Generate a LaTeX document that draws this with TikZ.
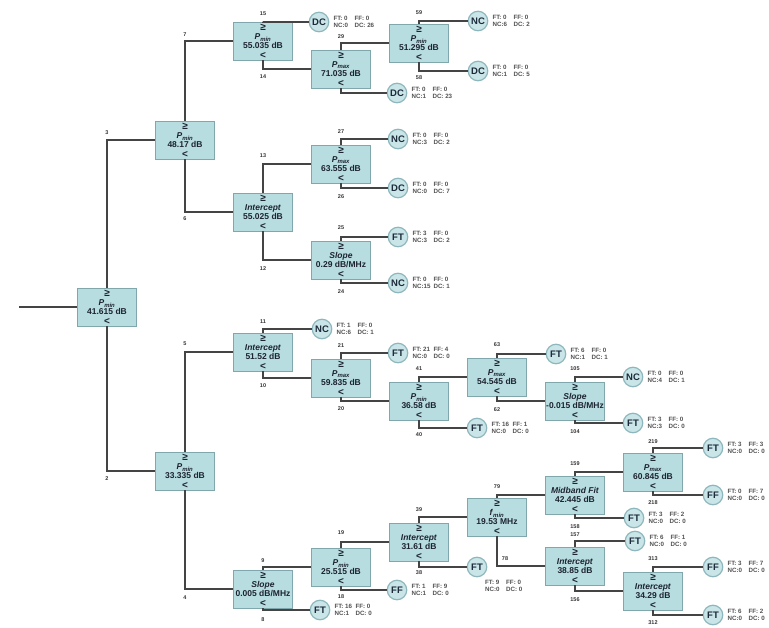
\documentclass[tikz,border=0pt]{standalone}
\usepackage{fontspec}
\setmainfont{Liberation Sans}
\definecolor{boxfill}{HTML}{B8DDE1}
\definecolor{boxline}{HTML}{7FA7AC}
\definecolor{leaffill}{HTML}{C9E5E8}
\definecolor{leafline}{HTML}{8DB7BD}
\definecolor{edgecol}{HTML}{444444}
\definecolor{boxtext}{HTML}{1C2430}
\definecolor{leaftext}{HTML}{1C2A3A}
\definecolor{stattext}{HTML}{505050}
\definecolor{numtext}{HTML}{333333}
\newcommand{\Pmin}{\textit{P}\textsubscript{\itshape min}}
\newcommand{\Pmax}{\textit{P}\textsubscript{\itshape max}}
\newcommand{\Fmin}{\textit{f}\textsubscript{\itshape min}}
\newcommand{\bt}[2]{{\fontsize{10}{9.3}\selectfont ≥}\\#1\\#2\\{\fontsize{10}{9.3}\selectfont <}}
\newcommand{\sttext}[4]{\makebox[21pt][l]{FT: #1}FF: #2\\\makebox[21pt][l]{NC:#3}DC: #4}
\begin{document}
\begin{tikzpicture}[x=1pt,y=-1pt,
 box/.style={draw=boxline, fill=boxfill, line width=0.6pt, minimum width=59pt, minimum height=38pt, inner sep=0.5pt, align=center, text=boxtext, font=\bfseries\fontsize{8.5}{9.3}\selectfont},
 leaf/.style={circle, draw=leafline, fill=leaffill, line width=1.2pt, minimum size=19.5pt, inner sep=0pt, text=leaftext, font=\bfseries\fontsize{9.5}{10}\selectfont},
 stat/.style={anchor=west, align=left, inner sep=0pt, text=stattext, font=\bfseries\fontsize{6.2}{7.6}\selectfont},
 num/.style={inner sep=0pt, text=numtext, font=\bfseries\fontsize{5.5}{6}\selectfont},
 edge/.style={draw=edgecol, line width=1.6pt}]
\useasboundingbox (0,0) rectangle (769,628);
\clip (0,0) rectangle (769,628);

% ---------- decision boxes ----------
\node[box] (R) at (107,307) {\bt{\Pmin}{41.615 dB}};
\node[box] (A) at (185,140) {\bt{\Pmin}{48.17 dB}};
\node[box] (B) at (185,471) {\bt{\Pmin}{33.335 dB}};
\node[box] (A1) at (263,41) {\bt{\Pmin}{55.035 dB}};
\node[box] (A2) at (263,212) {\bt{\textit{Intercept}}{55.025 dB}};
\node[box] (A11) at (341,69) {\bt{\Pmax}{71.035 dB}};
\node[box] (A111) at (419,43) {\bt{\Pmin}{51.295 dB}};
\node[box] (A21) at (341,164) {\bt{\Pmax}{63.555 dB}};
\node[box] (A22) at (341,260) {\bt{\textit{Slope}}{0.29 dB/MHz}};
\node[box] (B1) at (263,352) {\bt{\textit{Intercept}}{51.52 dB}};
\node[box] (B2) at (263,589) {\bt{\textit{Slope}}{0.005 dB/MHz}};
\node[box] (B12) at (341,378) {\bt{\Pmax}{59.835 dB}};
\node[box] (B122) at (419,401) {\bt{\Pmin}{36.58 dB}};
\node[box] (B1221) at (497,377) {\bt{\Pmax}{54.545 dB}};
\node[box] (B12212) at (575,401) {\bt{\textit{Slope}}{-0.015 dB/MHz}};
\node[box] (B21) at (341,567) {\bt{\Pmin}{25.515 dB}};
\node[box] (B211) at (419,542) {\bt{\textit{Intercept}}{31.61 dB}};
\node[box] (B2111) at (497,517) {\bt{\Fmin}{19.53 MHz}};
\node[box] (B21111) at (575,495) {\bt{\textit{Midband Fit}}{42.445 dB}};
\node[box] (B211111) at (653,472) {\bt{\Pmax}{60.845 dB}};
\node[box] (B21112) at (575,566) {\bt{\textit{Intercept}}{38.85 dB}};
\node[box] (B211122) at (653,591) {\bt{\textit{Intercept}}{34.29 dB}};

% ---------- leaves ----------
\node[leaf] (L1) at (319,22) {DC};
\node[leaf] (L2) at (397,93) {DC};
\node[leaf] (L3) at (478,21) {NC};
\node[leaf] (L4) at (478,71) {DC};
\node[leaf] (L5) at (398,139) {NC};
\node[leaf] (L6) at (398,188) {DC};
\node[leaf] (L7) at (398,237) {FT};
\node[leaf] (L8) at (398,283) {NC};
\node[leaf] (L9) at (322,329) {NC};
\node[leaf] (L10) at (398,353) {FT};
\node[leaf] (L11) at (477,428) {FT};
\node[leaf] (L12) at (556,354) {FT};
\node[leaf] (L13) at (633,377) {NC};
\node[leaf] (L14) at (633,423) {FT};
\node[leaf] (L15) at (713,448) {FT};
\node[leaf] (L16) at (713,495) {FF};
\node[leaf] (L17) at (634,518) {FT};
\node[leaf] (L18) at (635,541) {FT};
\node[leaf] (L19) at (713,567) {FF};
\node[leaf] (L20) at (713,615) {FT};
\node[leaf] (L21) at (477,567) {FT};
\node[leaf] (L22) at (397,590) {FF};
\node[leaf] (L23) at (320,610) {FT};

% ---------- leaf statistics ----------
\node[stat] (S1) at ([xshift=4pt]L1.east) {\sttext{0}{0}{0}{26}};
\node[stat] (S2) at ([xshift=4pt]L2.east) {\sttext{0}{0}{1}{23}};
\node[stat] (S3) at ([xshift=4pt]L3.east) {\sttext{0}{0}{6}{2}};
\node[stat] (S4) at ([xshift=4pt]L4.east) {\sttext{0}{0}{1}{5}};
\node[stat] (S5) at ([xshift=4pt]L5.east) {\sttext{0}{0}{3}{2}};
\node[stat] (S6) at ([xshift=4pt]L6.east) {\sttext{0}{0}{0}{7}};
\node[stat] (S7) at ([xshift=4pt]L7.east) {\sttext{3}{0}{3}{2}};
\node[stat] (S8) at ([xshift=4pt]L8.east) {\sttext{0}{0}{15}{1}};
\node[stat] (S9) at ([xshift=4pt]L9.east) {\sttext{1}{0}{6}{1}};
\node[stat] (S10) at ([xshift=4pt]L10.east) {\sttext{21}{4}{0}{0}};
\node[stat] (S11) at ([xshift=4pt]L11.east) {\sttext{16}{1}{0}{0}};
\node[stat] (S12) at ([xshift=4pt]L12.east) {\sttext{6}{0}{1}{1}};
\node[stat] (S13) at ([xshift=4pt]L13.east) {\sttext{0}{0}{4}{1}};
\node[stat] (S14) at ([xshift=4pt]L14.east) {\sttext{3}{0}{3}{0}};
\node[stat] (S15) at ([xshift=4pt]L15.east) {\sttext{3}{3}{0}{0}};
\node[stat] (S16) at ([xshift=4pt]L16.east) {\sttext{0}{7}{0}{0}};
\node[stat] (S17) at ([xshift=4pt]L17.east) {\sttext{3}{2}{0}{0}};
\node[stat] (S18) at ([xshift=4pt]L18.east) {\sttext{6}{1}{0}{0}};
\node[stat] (S19) at ([xshift=4pt]L19.east) {\sttext{3}{7}{0}{0}};
\node[stat] (S20) at ([xshift=4pt]L20.east) {\sttext{6}{2}{0}{0}};
\node[stat] (S21) at (485,586) {\sttext{9}{0}{0}{0}};
\node[stat] (S22) at ([xshift=4pt]L22.east) {\sttext{1}{9}{1}{0}};
\node[stat] (S23) at ([xshift=4pt]L23.east) {\sttext{16}{0}{1}{0}};

% ---------- connectors ----------
\coordinate (in) at (19,307);
\draw[edge] (in) -- (R.west);
\draw[edge] (R.north) |- (A.west);
\draw[edge] (R.south) |- (B.west);
\draw[edge] (A.north) |- (A1.west);
\draw[edge] (A.south) |- (A2.west);
\draw[edge] (A1.north) |- (L1.west);
\draw[edge] (A1.south) |- (A11.west);
\draw[edge] (A11.north) |- (A111.west);
\draw[edge] (A11.south) |- (L2.west);
\draw[edge] (A111.north) |- (L3.west);
\draw[edge] (A111.south) |- (L4.west);
\draw[edge] (A2.north) |- (A21.west);
\draw[edge] (A2.south) |- (A22.west);
\draw[edge] (A21.north) |- (L5.west);
\draw[edge] (A21.south) |- (L6.west);
\draw[edge] (A22.north) |- (L7.west);
\draw[edge] (A22.south) |- (L8.west);
\draw[edge] (B.north) |- (B1.west);
\draw[edge] (B.south) |- (B2.west);
\draw[edge] (B1.north) |- (L9.west);
\draw[edge] (B1.south) |- (B12.west);
\draw[edge] (B12.north) |- (L10.west);
\draw[edge] (B12.south) |- (B122.west);
\draw[edge] (B122.north) |- (B1221.west);
\draw[edge] (B122.south) |- (L11.west);
\draw[edge] (B1221.north) |- (L12.west);
\draw[edge] (B1221.south) |- (B12212.west);
\draw[edge] (B12212.north) |- (L13.west);
\draw[edge] (B12212.south) |- (L14.west);
\draw[edge] (B2.north) |- (B21.west);
\draw[edge] (B2.south) |- (L23.west);
\draw[edge] (B21.north) |- (B211.west);
\draw[edge] (B21.south) |- (L22.west);
\draw[edge] (B211.north) |- (B2111.west);
\draw[edge] (B211.south) |- (L21.west);
\draw[edge] (B2111.north) |- (B21111.west);
\draw[edge] (B2111.south) |- (B21112.west);
\draw[edge] (B21111.north) |- (B211111.west);
\draw[edge] (B21111.south) |- (L17.west);
\draw[edge] (B211111.north) |- (L15.west);
\draw[edge] (B211111.south) |- (L16.west);
\draw[edge] (B21112.north) |- (L18.west);
\draw[edge] (B21112.south) |- (B211122.west);
\draw[edge] (B211122.north) |- (L19.west);
\draw[edge] (B211122.south) |- (L20.west);

% ---------- branch numbers ----------
\node[num] (n3) at (107,133) {3};
\node[num] (n2) at (107,479) {2};
\node[num] (n7) at (185,35) {7};
\node[num] (n6) at (185,219) {6};
\node[num] (n15) at (263,14) {15};
\node[num] (n14) at (263,77) {14};
\node[num] (n29) at (341,37) {29};
\node[num] (n59) at (419,13) {59};
\node[num] (n58) at (419,78) {58};
\node[num] (n13) at (263,156) {13};
\node[num] (n12) at (263,269) {12};
\node[num] (n27) at (341,132) {27};
\node[num] (n26) at (341,197) {26};
\node[num] (n25) at (341,228) {25};
\node[num] (n24) at (341,292) {24};
\node[num] (n5) at (185,344) {5};
\node[num] (n4) at (185,598) {4};
\node[num] (n11) at (263,322) {11};
\node[num] (n10) at (263,386) {10};
\node[num] (n21) at (341,346) {21};
\node[num] (n20) at (341,409) {20};
\node[num] (n41) at (419,369) {41};
\node[num] (n40) at (419,435) {40};
\node[num] (n63) at (497,345) {63};
\node[num] (n62) at (497,410) {62};
\node[num] (n105) at (575,369) {105};
\node[num] (n104) at (575,432) {104};
\node[num] (n9) at (263,561) {9};
\node[num] (n8) at (263,620) {8};
\node[num] (n19) at (341,533) {19};
\node[num] (n18) at (341,597) {18};
\node[num] (n39) at (419,510) {39};
\node[num] (n38) at (419,573) {38};
\node[num] (n79) at (497,487) {79};
\node[num] (n78) at (505,559) {78};
\node[num] (n159) at (575,464) {159};
\node[num] (n158) at (575,527) {158};
\node[num] (n157) at (575,535) {157};
\node[num] (n156) at (575,600) {156};
\node[num] (n219) at (653,442) {219};
\node[num] (n218) at (653,503) {218};
\node[num] (n313) at (653,559) {313};
\node[num] (n312) at (653,623) {312};
\end{tikzpicture}
\end{document}
